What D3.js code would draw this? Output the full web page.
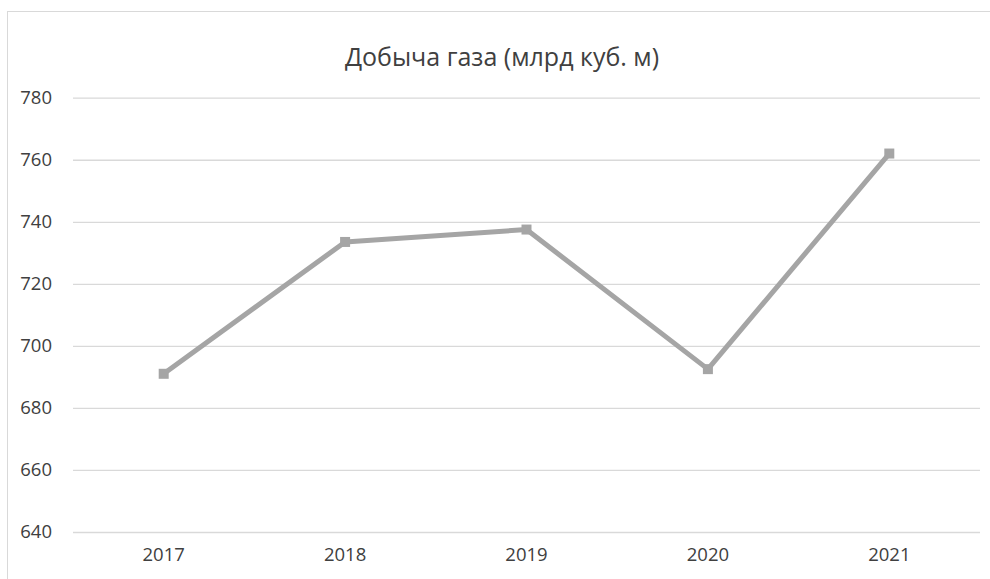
<!DOCTYPE html>
<html>
<head>
<meta charset="utf-8">
<script src="https://cdn.jsdelivr.net/npm/d3@7"></script>
<style>
  body { margin: 0; background: #fff; overflow: hidden; }
  svg { display: block; font-family: "Open Sans", sans-serif; }
</style>
</head>
<body>
<svg id="chart" width="990" height="579"></svg>
<script>
// data
const years = ["2017", "2018", "2019", "2020", "2021"];
const gasOutput = [691, 733.5, 737.5, 692.5, 762];
const yTicks = [640, 660, 680, 700, 720, 740, 760, 780];
const chartTitle = "Добыча газа (млрд куб. м)";

const svg = d3.select("#chart");
const plotLeft = 73, plotRight = 980, plotTop = 97.7, plotBottom = 532;

const x = d3.scaleBand().domain(years).range([plotLeft, plotRight]);
const y = d3.scaleLinear().domain([640, 780]).range([plotBottom, plotTop]);

// chart frame (only left and top edges fall inside the window)
svg.append("rect")
  .attr("x", 7.5).attr("y", 11.5)
  .attr("width", 1200).attr("height", 800)
  .attr("fill", "none")
  .attr("stroke", "#d9d9d9")
  .attr("stroke-width", 1);

svg.append("text")
  .attr("x", 502).attr("y", 66)
  .attr("text-anchor", "middle")
  .attr("font-size", 25)
  .attr("fill", "#404040")
  .text(chartTitle);

// gridlines + y labels
const yAxis = svg.append("g")
  .attr("transform", "translate(" + plotLeft + ",0)")
  .call(d3.axisLeft(y).tickValues(yTicks).tickSize(-(plotRight - plotLeft)).tickPadding(21));
yAxis.select(".domain").remove();
yAxis.selectAll(".tick line").attr("stroke", "#d9d9d9").attr("stroke-width", 1.3);
yAxis.selectAll(".tick text")
  .attr("font-size", 18.5)
  .attr("fill", "#404040")
  .attr("font-family", "Open Sans, sans-serif");

// x labels
const xAxis = svg.append("g")
  .attr("transform", "translate(0," + plotBottom + ")")
  .call(d3.axisBottom(x).tickSize(0).tickPadding(16));
xAxis.select(".domain").remove();
xAxis.selectAll(".tick text")
  .attr("font-size", 18.5)
  .attr("fill", "#404040")
  .attr("font-family", "Open Sans, sans-serif");

const pts = years.map((yr, i) => [x(yr) + x.bandwidth() / 2, y(gasOutput[i])]);

svg.append("path")
  .datum(pts)
  .attr("fill", "none")
  .attr("stroke", "#a5a5a5")
  .attr("stroke-width", 5)
  .attr("stroke-linejoin", "round")
  .attr("d", d3.line());

svg.selectAll("rect.marker")
  .data(pts)
  .enter().append("rect")
  .attr("class", "marker")
  .attr("x", d => d[0] - 5)
  .attr("y", d => d[1] - 5)
  .attr("width", 10).attr("height", 10)
  .attr("fill", "#a5a5a5");
</script>
</body>
</html>
